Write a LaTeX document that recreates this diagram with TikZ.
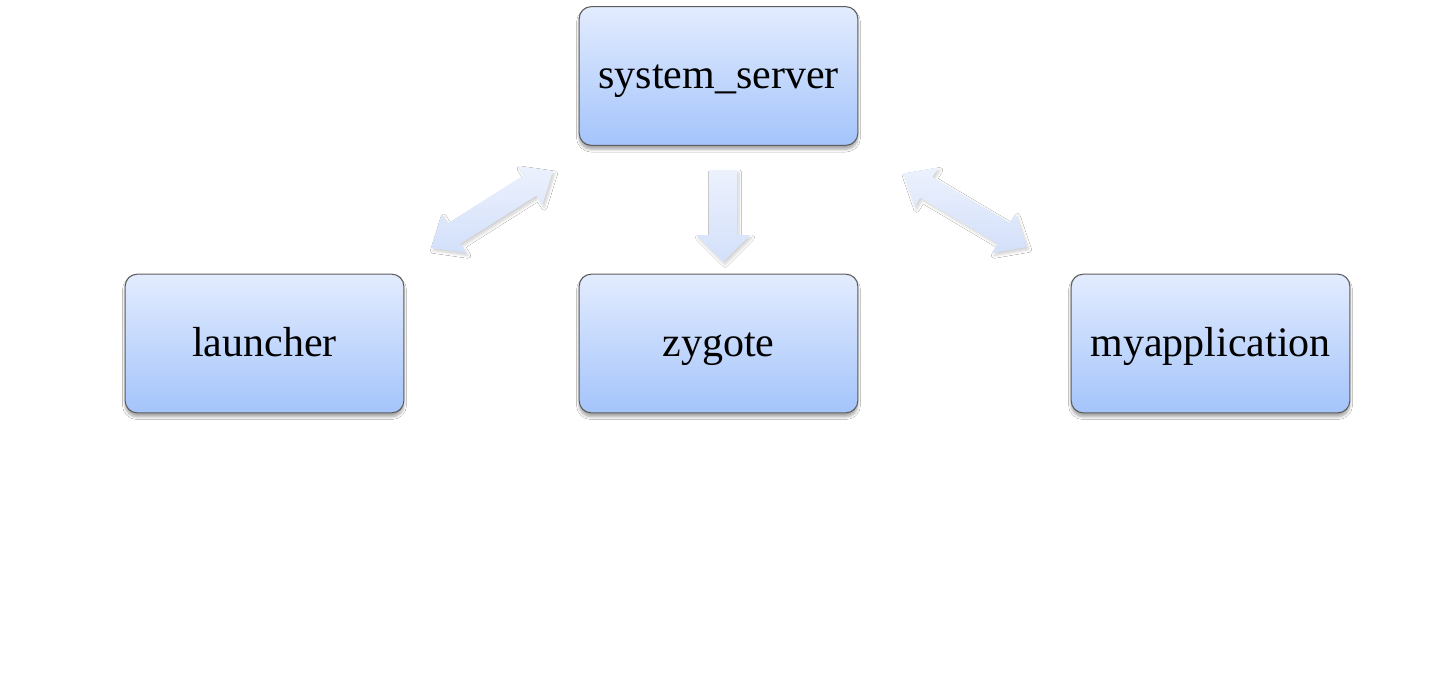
\documentclass[tikz,border=0pt]{standalone}
\usepackage{fontspec}
\setmainfont{Liberation Serif}
\usetikzlibrary{shadows.blur}
\definecolor{boxtop}{HTML}{E3ECFE}
\definecolor{boxbot}{HTML}{A4C4FB}
\definecolor{boxline}{HTML}{5C5C5C}
\definecolor{arrtop}{HTML}{ECF1FD}
\definecolor{arrbot}{HTML}{D3E0FA}
\tikzset{
  procbox/.style={draw=boxline, line width=0.8pt, rounded corners=9pt,
    top color=boxtop, bottom color=boxbot,
    minimum width=209pt, minimum height=104pt, inner sep=0pt,
    text height=24pt, text depth=4.5pt,
    font=\fontsize{31.5}{36}\selectfont,
    blur shadow={shadow xshift=0pt, shadow yshift=-3pt, shadow blur steps=6,
      shadow blur radius=2pt, shadow opacity=35}},
  flowarrow/.style={top color=arrtop, bottom color=arrbot,
    blur shadow={shadow xshift=1.5pt, shadow yshift=-2pt, shadow blur steps=5,
      shadow blur radius=2pt, shadow opacity=18}},
}
\begin{document}
\begin{tikzpicture}[x=0.75pt,y=-0.75pt]
\useasboundingbox[fill=white] (0,0) rectangle (1438,681);

\node[procbox] (ss) at (718.5,76) {system\_server};
\node[procbox] (launcher) at (264.5,343.5) {launcher};
\node[procbox] (zygote) at (718.5,343.5) {zygote};
\node[procbox] (myapp) at (1210.5,343.5) {myapplication};

% down arrow system_server -> zygote
\path[flowarrow] (709,170) -- (737,170) -- (737,235) -- (750,235) -- (723,262)
  -- (696,235) -- (709,235) -- cycle;

% launcher <-> system_server
\begin{scope}[shift={(492,209.5)}, rotate=32.3, x=0.75pt, y=0.75pt]
\path[flowarrow] (-72,0) -- (-45,23) -- (-45,12) -- (45,12) -- (45,23) -- (72,0)
  -- (45,-23) -- (45,-12) -- (-45,-12) -- (-45,-23) -- cycle;
\end{scope}

% system_server <-> myapplication
\begin{scope}[shift={(965,210.25)}, rotate=-30.7, x=0.75pt, y=0.75pt]
\path[flowarrow] (-72,0) -- (-45,23) -- (-45,12) -- (45,12) -- (45,23) -- (72,0)
  -- (45,-23) -- (45,-12) -- (-45,-12) -- (-45,-23) -- cycle;
\end{scope}
\end{tikzpicture}
\end{document}
